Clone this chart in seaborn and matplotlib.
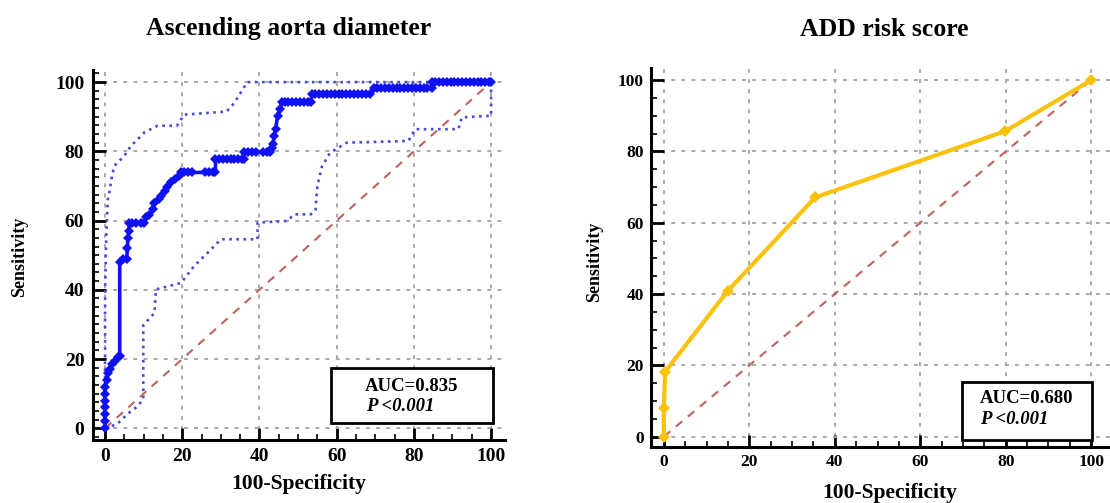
import matplotlib
matplotlib.use("Agg")
import matplotlib.pyplot as plt
from matplotlib.patches import Rectangle
from matplotlib.ticker import MultipleLocator
import seaborn as sns

# ---- ROC data: Ascending aorta diameter ----
aad_fpr = [0, 0, 0, 0, 0, 0, 0, 0.4, 0.8, 1.2, 1.7, 2.5, 3.4, 3.8,
           3.8, 4.6, 5.6, 5.8, 5.9, 6.2, 6.3, 7.0, 8.0, 9.2, 10.0, 10.5, 11.5,
           12.3, 12.8, 14.0, 14.5, 15.5, 16.0, 17.0, 18.0, 19.2, 19.7,
           20.5, 21.5, 22.5, 26.0, 27.0, 28.0, 28.6,
           28.6, 29.5, 30.5, 31.5, 32.5, 33.5, 34.5, 35.5, 36.0,
           36.0, 37.0, 38.0, 39.0, 41.0, 42.0, 42.8,
           43.2, 43.5, 43.8, 44.2, 44.7, 45.3, 45.8,
           46.5, 47.5, 48.5, 49.5, 50.5, 51.5, 52.5, 53.3,
           53.6, 54.5, 55.5, 56.5, 57.5, 58.5, 59.5, 60.5, 61.5, 62.5,
           63.5, 64.5, 65.5, 66.5, 67.5, 68.7,
           69.6, 70.5, 71.5, 72.5, 73.5, 74.5, 75.5, 76.5, 77.5, 78.5,
           79.5, 80.5, 81.5, 82.5, 83.5, 84.7,
           84.7, 85.5, 86.5, 87.5, 88.5, 89.5, 90.5, 91.5, 92.5, 93.5,
           94.5, 95.5, 96.5, 97.5, 98.5, 99.5, 100]
aad_tpr = [0, 2, 4, 6, 8, 10, 12, 14, 16, 17, 18.5, 19.5, 20.5, 20.8,
           48.0, 49.0, 49.0, 52.0, 55.0, 57.0, 59.4, 59.4, 59.4, 59.4, 59.4,
           61.0, 61.5,
           63.3, 65.2, 66.2, 67.2, 68.5, 69.6, 71.0, 72.0, 73.0, 73.9,
           73.9, 73.9, 73.9, 73.9, 73.9, 73.9, 73.9,
           77.8, 77.8, 77.8, 77.8, 77.8, 77.8, 77.8, 77.8, 77.8,
           79.9, 79.9, 79.9, 79.9, 79.9, 79.9, 79.9,
           81.0, 82.0, 84.5, 86.5, 90.3, 92.3, 94.2,
           94.2, 94.2, 94.2, 94.2, 94.2, 94.2, 94.2, 94.2,
           96.5, 96.5, 96.5, 96.5, 96.5, 96.5, 96.5, 96.5, 96.5, 96.5,
           96.5, 96.5, 96.5, 96.5, 96.5, 96.5,
           98.2, 98.2, 98.2, 98.2, 98.2, 98.2, 98.2, 98.2, 98.2, 98.2,
           98.2, 98.2, 98.2, 98.2, 98.2, 98.2,
           100, 100, 100, 100, 100, 100, 100, 100, 100, 100,
           100, 100, 100, 100, 100, 100, 100]

# 95% confidence bounds of the AAD curve
aad_upper_fpr = [0, 0, 0.3, 0.7, 1.1, 1.8, 2.4, 5.0, 6.7, 8.5, 10.2,
                 13.6, 18.6, 20.5, 31.5, 33.5, 35.2, 36.9, 100]
aad_upper_tpr = [0, 39, 55, 66, 68, 73, 75.8, 78.7, 81.6, 83.5, 85.5,
                 87.4, 87.4, 90.6, 91.5, 94.0, 97.1, 100, 100]
aad_lower_fpr = [0, 1.5, 3.4, 6.0, 8.4, 9.9, 9.9, 12.8, 13.2, 19.7,
                 23.1, 26.6, 30.0, 39.5, 39.5, 47.2, 49.0, 53.3, 54.5,
                 55.0, 56.2, 58.3, 62.6, 78.6, 80.3, 91.5, 92.4, 100, 100]
aad_lower_tpr = [0, 0.5, 1.5, 4.3, 6.3, 8.5, 29.8, 33.3, 40.1, 42.0,
                 46.9, 50.7, 54.6, 54.6, 59.4, 59.9, 61.8, 61.8, 63.0,
                 70.0, 75.7, 79.6, 82.5, 83.0, 86.4, 86.4, 89.8, 90.3, 100]

# ---- ROC data: ADD risk score ----
add_fpr = [0, 0, 0.3, 14.9, 35.4, 79.9, 100]
add_tpr = [0, 7.9, 18.2, 40.8, 67.1, 85.7, 100]

ref_line = [0, 100]
ticks = [0, 20, 40, 60, 80, 100]

panels = [
    {"title": "Ascending aorta diameter", "auc": "AUC=0.835", "p": "P <0.001"},
    {"title": "ADD risk score", "auc": "AUC=0.680", "p": "P <0.001"},
]

sns.set_theme(style="white")
plt.rcParams["font.family"] = ["Liberation Serif", "DejaVu Serif"]
plt.rcParams["font.weight"] = "bold"
plt.rcParams["text.color"] = "black"
plt.rcParams["axes.labelcolor"] = "black"
plt.rcParams["xtick.color"] = "black"
plt.rcParams["ytick.color"] = "black"

fig = plt.figure(figsize=(11.10, 5.03), dpi=100)

W, H = 1110.0, 503.0
ax1 = fig.add_axes([92.7 / W, 63 / H, (505 - 92.7) / W, (440 - 70) / H])
ax2 = fig.add_axes([651 / W, 56 / H, (1110 - 651) / W, (447 - 68) / H])

grid_kw = dict(color="#a8a8a8", lw=1.4, ls=(0, (2, 3.2)))
diag_kw = dict(color="#c0625e", lw=1.5)
ci_color = "#4a4ad6"


def style_axes(ax, xlim, ylim, ytick_minor, label_size, pad):
    ax.set_xlim(*xlim)
    ax.set_ylim(*ylim)
    ax.set_xticks(ticks)
    ax.set_yticks(ticks)
    ax.xaxis.set_minor_locator(MultipleLocator(5))
    ax.yaxis.set_minor_locator(MultipleLocator(ytick_minor))
    ax.grid(True, which="major", **grid_kw)
    ax.set_axisbelow(True)
    for side in ("top", "right"):
        ax.spines[side].set_visible(False)
    for side in ("left", "bottom"):
        ax.spines[side].set_linewidth(2.2)
        ax.spines[side].set_color("black")
    ax.tick_params(which="major", direction="in", length=9, width=2,
                   colors="black", labelsize=label_size, pad=pad,
                   left=True, bottom=True)
    ax.tick_params(which="minor", direction="in", length=4, width=1.2,
                   colors="black", left=True, bottom=True)
    for lab in ax.get_xticklabels() + ax.get_yticklabels():
        lab.set_fontweight("bold")
    ax.set_xlabel("")
    ax.set_ylabel("")


# ---- left panel ----
sns.lineplot(x=ref_line, y=ref_line, ax=ax1, sort=False, estimator=None,
             **diag_kw)
ax1.lines[-1].set_dashes((4, 3.5))
for xs, ys in ((aad_upper_fpr, aad_upper_tpr), (aad_lower_fpr, aad_lower_tpr)):
    sns.lineplot(x=xs, y=ys, ax=ax1, sort=False, estimator=None,
                 color=ci_color, lw=1.9)
    ax1.lines[-1].set_linestyle((0, (1, 1.7)))
sns.lineplot(x=aad_fpr, y=aad_tpr, ax=ax1, sort=False, estimator=None,
             color="#1010f5", lw=2.6, marker="D", markersize=5.5,
             markeredgewidth=0)
style_axes(ax1, (-3.2, 103.6), (-3.4, 103.5), 2.5, 14, 6)

ax1.add_patch(Rectangle((58.4, 1.4), 42.0, 16.0, facecolor="white",
                        edgecolor="black", lw=2, zorder=5))
ax1.text(79.5, 12.0, panels[0]["auc"], ha="center", va="center",
         fontsize=13.5, fontweight="bold", zorder=6)
ax1.text(67.6, 6.2, panels[0]["p"], ha="left", va="center", fontsize=13.5,
         fontweight="bold", fontstyle="italic", zorder=6)

# ---- right panel ----
sns.lineplot(x=ref_line, y=ref_line, ax=ax2, sort=False, estimator=None,
             **diag_kw)
ax2.lines[-1].set_dashes((4, 3.5))
sns.lineplot(x=add_fpr, y=add_tpr, ax=ax2, sort=False, estimator=None,
             color="#fcc20a", lw=3, marker="D", markersize=6,
             markeredgewidth=0)
style_axes(ax2, (-3.0, 104.4), (-2.9, 103.4), 5, 12.5, 5)

ax2.add_patch(Rectangle((69.7, -0.9), 30.4, 16.3, facecolor="white",
                        edgecolor="black", lw=2, zorder=5, clip_on=False))
ax2.text(74.0, 10.8, panels[1]["auc"], ha="left", va="center",
         fontsize=13.5, fontweight="bold", zorder=6)
ax2.text(74.0, 4.7, panels[1]["p"], ha="left", va="center", fontsize=13.5,
         fontweight="bold", fontstyle="italic", zorder=6)

# ---- titles and axis labels ----
fig.text(289 / W, 1 - 28 / H, panels[0]["title"], ha="center", va="center",
         fontsize=18.5, fontweight="bold")
fig.text(884 / W, 1 - 30 / H, panels[1]["title"], ha="center", va="center",
         fontsize=18.5, fontweight="bold")
fig.text(299 / W, 1 - 484 / H, "100-Specificity", ha="center", va="center",
         fontsize=15.5, fontweight="bold")
fig.text(890 / W, 1 - 493 / H, "100-Specificity", ha="center", va="center",
         fontsize=15.5, fontweight="bold")
fig.text(20 / W, 1 - 257 / H, "Sensitivity", ha="center", va="center",
         rotation=90, fontsize=13, fontweight="bold")
fig.text(595 / W, 1 - 262 / H, "Sensitivity", ha="center", va="center",
         rotation=90, fontsize=13, fontweight="bold")

fig.savefig("out.png", dpi=100)
